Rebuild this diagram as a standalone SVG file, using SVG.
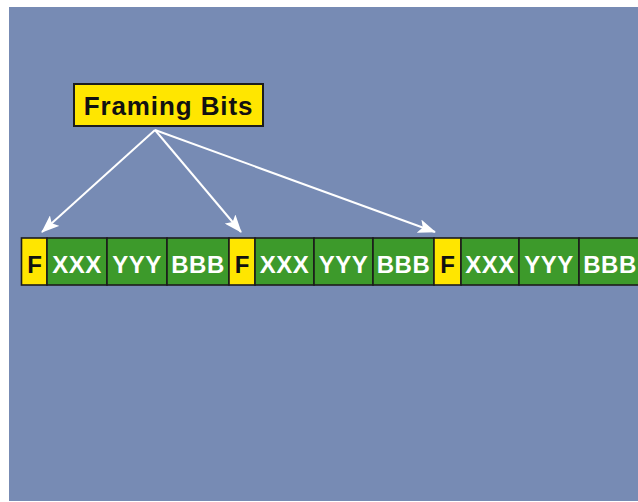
<svg xmlns="http://www.w3.org/2000/svg" width="638" height="502" viewBox="0 0 638 502">
  <defs>
    <marker id="head" viewBox="0 0 18 14" refX="17" refY="7" markerWidth="18" markerHeight="14" markerUnits="userSpaceOnUse" orient="auto">
      <path d="M0,0 L18,7 L0,14 L4,7 Z" fill="#ffffff"/>
    </marker>
    <style>
      .frame { fill: #ffe600; stroke: #1c1c1c; stroke-width: 1.6; }
      .data { fill: #3d9a2b; stroke: #1c1c1c; stroke-width: 1.6; }
      .ft { font-family: "Liberation Sans", Arial, sans-serif; font-weight: bold; font-size: 24px; fill: #111111; text-anchor: middle; }
      .dt { font-family: "Liberation Sans", Arial, sans-serif; font-weight: bold; font-size: 24px; fill: #ffffff; text-anchor: middle; letter-spacing: 0.5px; }
      .label { font-family: "Liberation Sans", Arial, sans-serif; font-weight: bold; font-size: 26px; fill: #111111; text-anchor: middle; letter-spacing: 0.9px; }
      .arrow { stroke: #ffffff; stroke-width: 2; fill: none; }
    </style>
  </defs>

  <rect x="0" y="0" width="638" height="502" fill="#ffffff"/>
  <rect x="9" y="7" width="629" height="494" fill="#778bb4"/>

  <!-- label box -->
  <g id="framing-bits">
    <rect x="74" y="84" width="189" height="42" fill="#ffe600" stroke="#1c1c1c" stroke-width="2"/>
    <text class="label" x="168.5" y="114.5">Framing Bits</text>
  </g>

  <!-- arrows from the label to each framing bit -->
  <g id="connectors">
    <line class="arrow" x1="155" y1="130" x2="42" y2="232" marker-end="url(#head)"/>
    <line class="arrow" x1="155" y1="130" x2="241" y2="232" marker-end="url(#head)"/>
    <line class="arrow" x1="155" y1="130" x2="435" y2="232" marker-end="url(#head)"/>
  </g>

  <!-- bit stream: first frame -->
  <g id="f1"><rect class="frame" x="21.5" y="238" width="25.5" height="47"/><text class="ft" x="34.5" y="273">F</text></g>
  <g id="xxx1"><rect class="data" x="47" y="238" width="60" height="47"/><text class="dt" x="77" y="273">XXX</text></g>
  <g id="yyy1"><rect class="data" x="107" y="238" width="60" height="47"/><text class="dt" x="137" y="273">YYY</text></g>
  <g id="bbb1"><rect class="data" x="167" y="238" width="62" height="47"/><text class="dt" x="198" y="273">BBB</text></g>

  <!-- second frame -->
  <g id="f2"><rect class="frame" x="229" y="238" width="26" height="47"/><text class="ft" x="242" y="273">F</text></g>
  <g id="xxx2"><rect class="data" x="255" y="238" width="59" height="47"/><text class="dt" x="284.5" y="273">XXX</text></g>
  <g id="yyy2"><rect class="data" x="314" y="238" width="59" height="47"/><text class="dt" x="343.5" y="273">YYY</text></g>
  <g id="bbb2"><rect class="data" x="373" y="238" width="61" height="47"/><text class="dt" x="403.5" y="273">BBB</text></g>

  <!-- third frame -->
  <g id="f3"><rect class="frame" x="434" y="238" width="27" height="47"/><text class="ft" x="447.5" y="273">F</text></g>
  <g id="xxx3"><rect class="data" x="461" y="238" width="58" height="47"/><text class="dt" x="490" y="273">XXX</text></g>
  <g id="yyy3"><rect class="data" x="519" y="238" width="60" height="47"/><text class="dt" x="549" y="273">YYY</text></g>
  <g id="bbb3"><rect class="data" x="579" y="238" width="64" height="47"/><text class="dt" x="610" y="273">BBB</text></g>
</svg>
